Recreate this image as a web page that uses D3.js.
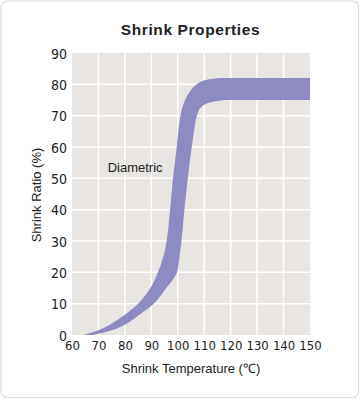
<!DOCTYPE html>
<html>
<head>
<meta charset="utf-8">
<script src="https://cdn.jsdelivr.net/npm/d3@7"></script>
<style>
html,body{margin:0;padding:0;background:#fff;}
svg{display:block;}
.tick-lbl{font-family:"Liberation Sans Narrow","DejaVu Sans Condensed","Liberation Sans",sans-serif;fill:#222;}
.lbl{font-family:"Liberation Sans",Arial,sans-serif;fill:#222;}
</style>
</head>
<body>
<script>
// ---- data ----
const title = "Shrink Properties";
const xTicks = [60, 70, 80, 90, 100, 110, 120, 130, 140, 150];
const yTicks = [0, 10, 20, 30, 40, 50, 60, 70, 80, 90];
const xLabel = "Shrink Temperature (\u2103)";
const yLabel = "Shrink Ratio (%)";
const seriesName = "Diametric";
const seriesLabelAt = [73.5, 52];
// upper edge of band (temperature, ratio)
const upperT = [64.4, 70, 75, 80, 85, 90, 92.5, 94.5, 95.8, 97.1, 98.2, 99.6, 101, 102.5, 105, 108, 112, 116, 120, 126, 132, 138, 144, 150];
const upperV = [0, 1.5, 3.7, 6.5, 10, 15.5, 20, 25, 30, 40, 50, 60, 70, 74.5, 78.2, 80.5, 81.6, 82, 82, 82, 82, 82, 82, 82];
// lower edge of band (temperature, ratio)
const lowerT = [68, 75, 80.8, 86, 90.9, 93.5, 96, 98, 99.7, 100.5, 101.4, 102.5, 103.8, 104.6, 105.3, 107.2, 108.4, 110, 112.5, 115, 118, 122, 127, 132, 138, 144, 150];
const lowerV = [0, 1.5, 3.7, 6.8, 10, 12.5, 15.4, 17.5, 20, 24, 30, 40, 50, 55.8, 60, 70, 72.3, 73.5, 74.3, 74.7, 75, 75, 75, 75, 75, 75, 75];

// ---- layout ----
const W = 360, H = 399;
const m = {left: 72, right: 50, top: 53, bottom: 64};
const svg = d3.select("body").append("svg").attr("width", W).attr("height", H);

svg.append("rect").attr("x", 1).attr("y", 1).attr("width", W - 2.5).attr("height", H - 2.5)
  .attr("rx", 6).attr("fill", "#fff").attr("stroke", "#dcdcdc").attr("stroke-width", 1.2);

const x = d3.scaleLinear().domain([60, 150]).range([m.left, W - m.right]);
const y = d3.scaleLinear().domain([0, 90]).range([H - m.bottom, m.top]);

svg.append("text").attr("class", "lbl").attr("x", 190.5).attr("y", 35)
  .attr("text-anchor", "middle").attr("font-size", 15.5).attr("font-weight", "bold")
  .attr("letter-spacing", 0.6).style("fill", "#222").text(title);

// plot background
svg.append("rect").attr("x", x(60)).attr("y", y(90))
  .attr("width", x(150) - x(60)).attr("height", y(0) - y(90)).attr("fill", "#e8e5e2");

// gridlines
const g = svg.append("g");
g.selectAll(".vg").data(xTicks.filter(d => d > 60 && d < 150)).join("line")
  .attr("x1", d => x(d)).attr("x2", d => x(d)).attr("y1", y(90)).attr("y2", y(0))
  .attr("stroke", "#fff").attr("stroke-width", 1.5);
g.selectAll(".hg").data(yTicks.filter(d => d > 0 && d < 90)).join("line")
  .attr("y1", d => y(d)).attr("y2", d => y(d)).attr("x1", x(60)).attr("x2", x(150))
  .attr("stroke", "#fff").attr("stroke-width", 1.5);

// clip
svg.append("clipPath").attr("id", "plotclip").append("rect")
  .attr("x", x(60)).attr("y", y(90)).attr("width", x(150) - x(60)).attr("height", y(0) - y(90));

const line = d3.line().x(d => x(d[0])).y(d => y(d[1])).curve(d3.curveCatmullRom.alpha(0.5));
const up = upperT.map((t, i) => [t, upperV[i]]);
const lo = lowerT.map((t, i) => [t, lowerV[i]]).reverse();
const pathD = line(up) + "L" + line(lo).slice(1) + "Z";
svg.append("path").attr("d", pathD).attr("fill", "#8e8bc3").attr("clip-path", "url(#plotclip)");

// series label
svg.append("text").attr("class", "lbl").attr("x", x(seriesLabelAt[0])).attr("y", y(seriesLabelAt[1]))
  .attr("font-size", 13).text(seriesName);

// axes (no lines)
const yAxis = svg.append("g").attr("transform", `translate(${x(60) - 5},0)`)
  .call(d3.axisLeft(y).tickValues(yTicks).tickSize(0).tickPadding(0));
yAxis.select(".domain").remove();
yAxis.selectAll("text").attr("class", "tick-lbl").attr("font-size", 14).attr("dy", "0.36em");

const xAxis = svg.append("g").attr("transform", `translate(0,${y(0) + 6})`)
  .call(d3.axisBottom(x).tickValues(xTicks).tickSize(0).tickPadding(0));
xAxis.select(".domain").remove();
xAxis.selectAll("text").attr("class", "tick-lbl").attr("font-size", 13).attr("dy", "0.71em");

svg.append("text").attr("class", "lbl").attr("x", 191).attr("y", 373)
  .attr("text-anchor", "middle").attr("font-size", 13).text(xLabel);

svg.append("text").attr("class", "lbl").attr("transform", `translate(41,195) rotate(-90)`)
  .attr("text-anchor", "middle").attr("font-size", 13).text(yLabel);
</script>
</body>
</html>
